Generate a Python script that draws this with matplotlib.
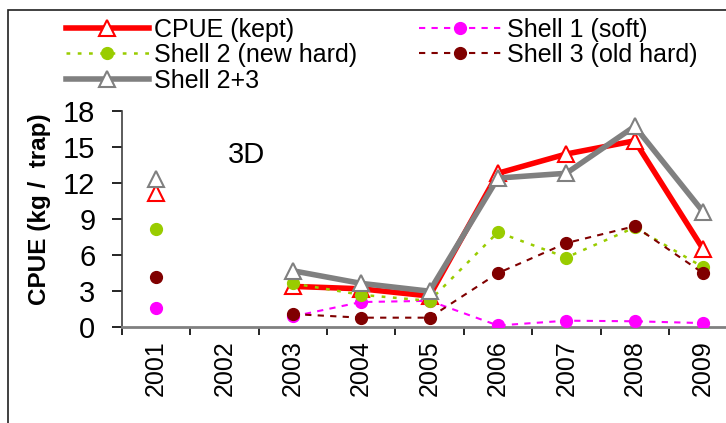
import numpy as np
import matplotlib
matplotlib.use("Agg")
import matplotlib.pyplot as plt
from matplotlib.patches import Rectangle

plt.rcParams['font.family'] = ['Liberation Sans', 'DejaVu Sans']

# dados (2002 sem amostragem)
years = ['2001', '2002', '2003', '2004', '2005', '2006', '2007', '2008', '2009']
cpue_kept = [11.2, np.nan, 3.4, 3.2, 2.6, 12.8, 14.4, 15.5, 6.5]
shell1 = [1.6, np.nan, 0.9, 2.1, 2.2, 0.15, 0.55, 0.5, 0.35]
shell2 = [8.2, np.nan, 3.65, 2.7, 2.2, 7.9, 5.8, 8.3, 5.0]
shell3 = [4.2, np.nan, 1.1, 0.8, 0.8, 4.5, 7.0, 8.4, 4.5]
shell23 = [12.3, np.nan, 4.7, 3.65, 3.0, 12.4, 12.8, 16.7, 9.6]
y_ticks = [0, 3, 6, 9, 12, 15, 18]

W, H = 726, 423
fig = plt.figure(figsize=(W / 100, H / 100), dpi=100)
# eixo passa da borda direita como no original (recortado)
ax = fig.add_axes([121.7 / W, 95.7 / H, 615.6 / W, 216.6 / H])

x = np.arange(len(years))
l_cpue, = ax.plot(x, cpue_kept, color='#FF0000', lw=4, marker='^', ms=12,
                  mfc='white', mec='#FF0000', mew=1.5, zorder=3)
l_s1, = ax.plot(x, shell1, color='#FF00FF', lw=1.5, ls=(0, (3, 3)), marker='o',
                ms=8.5, mfc='#FF00FF', mec='#FF00FF', zorder=4)
l_s2, = ax.plot(x, shell2, color='#99CC00', lw=1.8, ls=(0, (1.5, 3)), marker='o',
                ms=8.5, mfc='#99CC00', mec='#99CC00', zorder=5)
l_s3, = ax.plot(x, shell3, color='#800000', lw=1.5, ls=(0, (3, 3)), marker='o',
                ms=8.5, mfc='#800000', mec='#800000', zorder=6)
l_s23, = ax.plot(x, shell23, color='#808080', lw=4, marker='^', ms=12,
                 mfc='white', mec='#808080', mew=1.5, zorder=7)

ax.set_xlim(-0.5, len(years) - 0.5)
ax.set_ylim(0, 18)
ax.set_yticks(y_ticks)
ax.tick_params(axis='y', labelsize=21, length=7, width=1.2, direction='out',
               pad=12, colors='black')
ax.set_xticks(np.arange(len(years) + 1) - 0.5)
ax.set_xticklabels([])
ax.set_xticks(x, minor=True)
ax.set_xticklabels(years, minor=True, rotation=90)
ax.tick_params(axis='x', which='major', length=6, width=1.2, direction='out')
ax.tick_params(axis='x', which='minor', length=0, labelsize=18, pad=9)

for s in ['top', 'right']:
    ax.spines[s].set_visible(False)
ax.spines['left'].set_color('#404040')
ax.spines['left'].set_linewidth(1.2)
ax.spines['bottom'].set_color('#808080')
ax.spines['bottom'].set_linewidth(2)

fig.text(40 / W, 1 - 209 / H, 'CPUE (kg /  trap)', rotation=90, ha='center',
         va='center', fontsize=17.5, fontweight='bold')
ax.text(1.32, 14.3, '3D', fontsize=21, ha='center', va='center')

handles = [l_cpue, l_s2, l_s23, l_s1, l_s3]
labels = ['CPUE (kept)', 'Shell 2 (new hard)', 'Shell 2+3', 'Shell 1 (soft)',
          'Shell 3 (old hard)']
fig.legend(handles, labels, ncol=2, frameon=False, fontsize=18,
           loc='upper left', bbox_to_anchor=(66 / W, 1 - 18 / H),
           handlelength=3.3, handletextpad=0.2, columnspacing=2.5,
           labelspacing=0.05, borderpad=0, borderaxespad=0)

# moldura da área do gráfico
fig.patches.append(Rectangle((8 / W, -0.2), 1.5, 1.2 - 10 / H, fill=False,
                             ec='#202020', lw=1.2, transform=fig.transFigure))

fig.savefig('out.png', dpi=100)
